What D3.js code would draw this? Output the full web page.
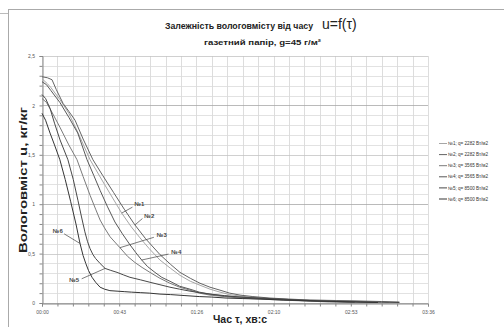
<!DOCTYPE html>
<html>
<head>
<meta charset="utf-8">
<script src="https://cdn.jsdelivr.net/npm/d3@7"></script>
<style>
  html, body { margin: 0; padding: 0; background: #fff; }
  svg { display: block; }
</style>
</head>
<body>
<div id="chart"></div>
<script>
// time in seconds, moisture u in kg/kg
const run1 = [[0,2.27],[3,2.22],[5,2.18],[10,2.06],[15,1.92],[20,1.73],[26.9,1.45],[35,1.20],[44.6,0.91],[50,0.77],[54.8,0.66],[60,0.55],[66,0.435],[72,0.35],[77.2,0.28],[83,0.22],[88.4,0.18],[94,0.14],[99.6,0.11],[105,0.085],[110.8,0.07],[122,0.05],[133,0.04],[144,0.03],[160,0.025],[172,0.02],[185,0.012],[194,0.005]];
const run2 = [[0,2.29],[3,2.28],[5.6,2.26],[8,2.16],[11.8,2.02],[15,1.94],[18.5,1.85],[23,1.66],[28.5,1.45],[34,1.29],[40,1.12],[46,0.95],[52,0.79],[58,0.65],[66,0.49],[72,0.39],[77.2,0.31],[83,0.25],[88.4,0.20],[94,0.16],[99.6,0.13],[105,0.10],[110.8,0.08],[118,0.065],[127.6,0.05],[138,0.04],[150,0.03],[165,0.025],[178,0.02],[190,0.015],[200,0.01]];
const run3 = [[0,2.07],[2.5,2.03],[5,1.95],[10,1.78],[15,1.60],[19.6,1.45],[23,1.28],[26.9,1.09],[30,0.95],[32.5,0.84],[35,0.76],[38.1,0.67],[43.6,0.56],[48,0.47],[52,0.41],[56,0.36],[60.4,0.31],[66,0.25],[71.6,0.20],[77,0.16],[82.8,0.13],[88,0.10],[94,0.08],[102,0.065],[110.8,0.05],[122,0.04],[133,0.03],[148,0.02],[161,0.01],[175,0.005]];
const run4 = [[0,2.24],[2.5,2.21],[5,2.15],[10,2.03],[15,1.88],[20,1.72],[25.2,1.45],[29,1.29],[32.5,1.14],[36.5,0.98],[40.8,0.82],[45,0.70],[49.2,0.59],[52.5,0.51],[55.8,0.435],[59,0.37],[63.2,0.31],[67,0.26],[71.6,0.22],[77,0.17],[82.8,0.14],[88,0.11],[94,0.09],[102,0.07],[110.8,0.06],[118,0.05],[127.6,0.04],[138,0.03],[150,0.02],[162,0.015],[172,0.01],[188,0.005]];
const run5 = [[0,2.11],[2,2.07],[4.5,1.97],[7,1.82],[10.1,1.65],[14.5,1.45],[17.5,1.25],[20.1,1.04],[22,0.88],[24,0.72],[25.5,0.62],[26.9,0.55],[28.5,0.49],[30,0.45],[32.5,0.40],[35.3,0.35],[38.5,0.33],[42,0.31],[45.5,0.285],[49.2,0.26],[55,0.235],[60.4,0.21],[66,0.185],[71.6,0.16],[77,0.14],[82.8,0.12],[88,0.105],[94,0.09],[102,0.075],[110.8,0.06],[122,0.05],[133,0.04],[145,0.03],[155.6,0.02],[166,0.015],[178,0.01],[190,0.008],[200,0.005]];
const run6 = [[0,1.92],[2,1.85],[4.5,1.72],[7,1.60],[10,1.45],[13,1.25],[16,1.03],[19,0.80],[21.3,0.60],[23,0.48],[24.5,0.40],[26,0.33],[28,0.26],[30,0.21],[32.5,0.16],[35,0.14],[38,0.125],[42,0.12],[46,0.115],[50,0.11],[55,0.105],[60,0.10],[66,0.09],[72,0.085],[80,0.075],[88,0.065],[95,0.06],[103,0.05],[112,0.045],[122,0.04],[135,0.03],[150,0.022],[165,0.015],[178,0.01],[188,0.005]];

const seriesData = [run1, run2, run3, run4, run5, run6];
const seriesNames = ['№1; q= 2282 Вт/м2', '№2; q= 2282 Вт/м2', '№3; q= 3565 Вт/м2', '№4; q= 3565 Вт/м2', '№5; q= 8500 Вт/м2', '№6; q= 8500 Вт/м2'];
const seriesColors = ['#a6a6a6', '#646464', '#7a7a7a', '#585858', '#484848', '#353535'];

const xTickValues = [0, 43.2, 86.4, 129.6, 172.8, 216];
const xTickLabels = ['00:00', '00:43', '01:26', '02:10', '02:53', '03:36'];
const yTickValues = [0, 0.5, 1, 1.5, 2, 2.5];
const yTickLabels = ['0', '0,5', '1', '1,5', '2', '2,5'];

// in-plot run labels: [label, text t, text u, leader from t,u, leader to t,u]
const runLabels = [
  ['№1', 54.5, 1.00, 50.6, 0.97, 44.6, 0.91],
  ['№2', 60.0, 0.885, 56.2, 0.855, 52.0, 0.79],
  ['№3', 67.0, 0.69, 62.6, 0.665, 43.6, 0.56],
  ['№4', 75.2, 0.515, 70.8, 0.495, 55.8, 0.435],
  ['№6', 8.8, 0.73, 12.4, 0.70, 21.5, 0.60],
  ['№5', 18.0, 0.235, 22.2, 0.245, 35.3, 0.35]
];

const W = 504, H = 327;
const M = { left: 42, right: 428, top: 56, bottom: 303 };

const svg = d3.select('#chart').append('svg')
  .attr('width', W).attr('height', H)
  .style('font-family', '"Liberation Sans", Arial, sans-serif');

// outer chart frame (partially visible)
svg.append('line').attr('x1', 8).attr('x2', W).attr('y1', 9.5).attr('y2', 9.5).attr('stroke', '#aaa');
svg.append('line').attr('x1', 8.5).attr('x2', 8.5).attr('y1', 9).attr('y2', H).attr('stroke', '#aaa');
svg.append('line').attr('x1', 0).attr('x2', 8).attr('y1', 13.5).attr('y2', 13.5).attr('stroke', '#bbb');

const x = d3.scaleLinear().domain([0, 216]).range([M.left, M.right]);
const y = d3.scaleLinear().domain([0, 2.5]).range([M.bottom, M.top]);

const minorX = d3.range(0, 216.01, 8.64);
const minorY = d3.range(0, 2.501, 0.1);

const grid = svg.append('g');
grid.selectAll('.vx').data(minorX).enter().append('line')
  .attr('x1', d => Math.round(x(d)) + 0.5).attr('x2', d => Math.round(x(d)) + 0.5)
  .attr('y1', M.top).attr('y2', M.bottom)
  .attr('stroke', '#d4d4d4').attr('stroke-width', 0.8);
grid.selectAll('.hy').data(minorY).enter().append('line')
  .attr('x1', M.left).attr('x2', M.right)
  .attr('y1', d => Math.round(y(d)) + 0.5).attr('y2', d => Math.round(y(d)) + 0.5)
  .attr('stroke', d => {
    const r = Math.round(d * 10);
    if (r % 10 === 0) return '#a8a8a8';
    if (r % 5 === 0) return '#c4c4c4';
    return '#dadada';
  })
  .attr('stroke-width', 0.8);

// axes
const xAxis = d3.axisBottom(x).tickValues(minorX).tickSize(3).tickFormat('');
svg.append('g').attr('transform', `translate(0,${M.bottom + 0.5})`).call(xAxis)
  .call(g => g.selectAll('line,path').attr('stroke', '#888'));
const xLab = d3.axisBottom(x).tickValues(xTickValues).tickSize(0)
  .tickFormat((d, i) => xTickLabels[i]);
svg.append('g').attr('transform', `translate(0,${M.bottom + 4})`).call(xLab)
  .call(g => g.select('.domain').remove())
  .call(g => g.selectAll('text').attr('font-size', 5).attr('fill', '#555').attr('font-family', '"Liberation Sans", Arial, sans-serif'));

const yAxis = d3.axisLeft(y).tickValues(minorY).tickSize(3).tickFormat('');
svg.append('g').attr('transform', `translate(${M.left + 0.5},0)`).call(yAxis)
  .call(g => g.selectAll('line,path').attr('stroke', '#888'));
const yLab = d3.axisLeft(y).tickValues(yTickValues).tickSize(0)
  .tickFormat((d, i) => yTickLabels[i]);
svg.append('g').attr('transform', `translate(${M.left - 4},0)`).call(yLab)
  .call(g => g.select('.domain').remove())
  .call(g => g.selectAll('text').attr('font-size', 5).attr('fill', '#555').attr('font-family', '"Liberation Sans", Arial, sans-serif'));

// series
const line = d3.line().x(d => x(d[0])).y(d => y(d[1]));
svg.append('g').selectAll('path').data(seriesData).enter().append('path')
  .attr('d', line)
  .attr('fill', 'none')
  .attr('stroke', (d, i) => seriesColors[i])
  .attr('stroke-width', 1)
  .attr('stroke-linejoin', 'round');

// run labels with leaders
const ann = svg.append('g');
runLabels.forEach(r => {
  ann.append('line')
    .attr('x1', x(r[3])).attr('y1', y(r[4])).attr('x2', x(r[5])).attr('y2', y(r[6]))
    .attr('stroke', '#444').attr('stroke-width', 0.7);
  ann.append('text').attr('x', x(r[1])).attr('y', y(r[2]) + 2)
    .attr('text-anchor', 'middle').attr('font-size', 6).attr('font-weight', 'bold')
    .attr('fill', '#444').text(r[0]);
});

// legend
const legend = svg.append('g').attr('transform', 'translate(439,143.5)');
seriesNames.forEach((name, i) => {
  const row = legend.append('g').attr('transform', `translate(0,${i * 11.1})`);
  row.append('line').attr('x1', 0).attr('x2', 8).attr('y1', 0).attr('y2', 0)
    .attr('stroke', seriesColors[i]).attr('stroke-width', 1);
  row.append('text').attr('x', 9).attr('y', 1.6).attr('font-size', 4.6)
    .attr('fill', '#333').text(name);
});

// titles
const title = svg.append('text').attr('x', 165).attr('y', 29).attr('font-weight', 'bold').attr('fill', '#222');
title.append('tspan').attr('font-size', 9.5).attr('textLength', 148).attr('lengthAdjust', 'spacingAndGlyphs')
  .text('Залежність вологовмісту від часу');
title.append('tspan').attr('x', 322).attr('font-size', 14).attr('font-weight', 'normal').text('u=f(τ)');

svg.append('text').attr('x', 204).attr('y', 44.5).attr('font-weight', 'bold').attr('fill', '#222')
  .attr('font-size', 8).attr('textLength', 117).attr('lengthAdjust', 'spacingAndGlyphs')
  .text('газетний папір,  g=45 г/м²');

svg.append('text').attr('transform', 'translate(27,180) rotate(-90)')
  .attr('text-anchor', 'middle').attr('font-weight', 'bold').attr('font-size', 10).attr('fill', '#222')
  .attr('textLength', 146).attr('lengthAdjust', 'spacingAndGlyphs')
  .text('Вологовміст  u, кг/кг');

svg.append('text').attr('x', 240).attr('y', 323)
  .attr('text-anchor', 'middle').attr('font-weight', 'bold').attr('font-size', 11).attr('fill', '#222')
  .attr('textLength', 54).attr('lengthAdjust', 'spacingAndGlyphs')
  .text('Час τ, хв:с');
</script>
</body>
</html>
